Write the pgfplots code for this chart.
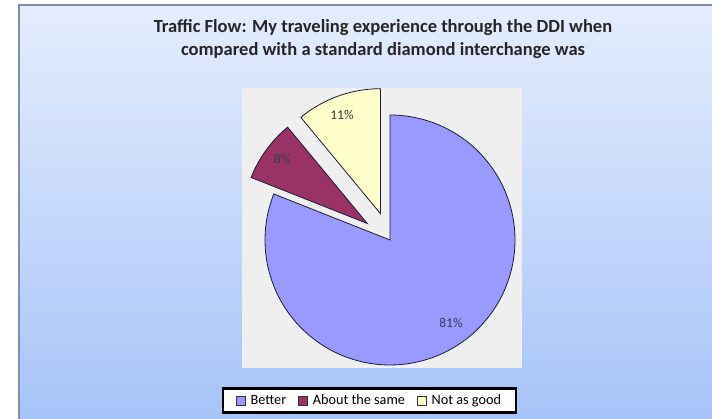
\documentclass[border=0pt]{standalone}
\usepackage{pgfplots}
\pgfplotsset{compat=1.18}
\usepackage{fontspec}
\setmainfont{Carlito}
\definecolor{better}{HTML}{9999FF}
\definecolor{same}{HTML}{993366}
\definecolor{notgood}{HTML}{FFFFCC}
\definecolor{bgtop}{HTML}{E5EDFD}
\definecolor{bgbot}{HTML}{A6C4F8}
\definecolor{frame}{HTML}{7F8FA9}
\definecolor{plotbg}{HTML}{EFEFEF}
\definecolor{edge}{HTML}{1C1C3A}
\definecolor{lbl}{HTML}{3A3A4A}
\begin{document}
\begin{tikzpicture}
\begin{axis}[
  width=712bp, height=419bp, scale only axis,
  xmin=0, xmax=712, ymin=0, ymax=419,
  hide axis, clip=false,
  legend columns=3,
  legend cell align=left,
  legend style={at={(axis cs:369.5,18.5)}, anchor=center,
    draw=black, line width=2.5bp, fill=white,
    font=\fontsize{14.3}{16}\selectfont,
    inner xsep=13bp, inner ysep=4.5bp,
    /tikz/every even column/.append style={column sep=10bp}},
  legend image code/.code={\draw[#1, draw=black!80, line width=0.5bp] (0bp,-4.5bp) rectangle (9bp,4.5bp); \path (12bp,0bp);},
]
% background
\fill[white] (axis cs:0,0) rectangle (axis cs:712,419);
\shade[top color=bgtop, bottom color=bgbot] (axis cs:19,0) rectangle (axis cs:712,414);
\draw[frame, line width=1.5bp] (axis cs:19,-5) -- (axis cs:19,414) -- (axis cs:720,414);
% plot area
\fill[plotbg] (axis cs:242,51) rectangle (axis cs:522,331);
% slices (values: 81, 8, 11 percent, clockwise from 12 o'clock)
\addplot[fill=better, draw=edge, line width=0.8bp, domain={90-3.6*81}:90, samples=150, variable=\t]
  ({390+125*cos(\t)}, {179+125*sin(\t)}) -- (axis cs:390,179) -- cycle;
\addlegendentry{Better}
\addplot[fill=same, draw=edge, line width=0.8bp, domain={90+3.6*11}:{90+3.6*19}, samples=30, variable=\t]
  ({367.3+125*cos(\t)}, {195.5+125*sin(\t)}) -- (axis cs:367.3,195.5) -- cycle;
\addlegendentry{About the same}
\addplot[fill=notgood, draw=edge, line width=0.8bp, domain=90:{90+3.6*11}, samples=30, variable=\t]
  ({380.5+125*cos(\t)}, {205.3+125*sin(\t)}) -- (axis cs:380.5,205.3) -- cycle;
\addlegendentry{Not as good}
% labels
\node[text=lbl, font=\fontsize{13.5}{15}\selectfont] at (axis cs:342,304) {11\%};
\node[text=lbl, font=\fontsize{13.5}{15}\selectfont] at (axis cs:282,260) {8\%};
\node[text=lbl, font=\fontsize{13.5}{15}\selectfont] at (axis cs:451,96) {81\%};
% title
\node[align=center, font=\bfseries\fontsize{18.6}{23}\selectfont, text=black!85] at (axis cs:383,380)
  {Traffic Flow: My traveling experience through the DDI when\\compared with a standard diamond interchange was};
\end{axis}
\pgfresetboundingbox
\useasboundingbox (0,0) rectangle (712bp,419bp);
\end{tikzpicture}
\end{document}
